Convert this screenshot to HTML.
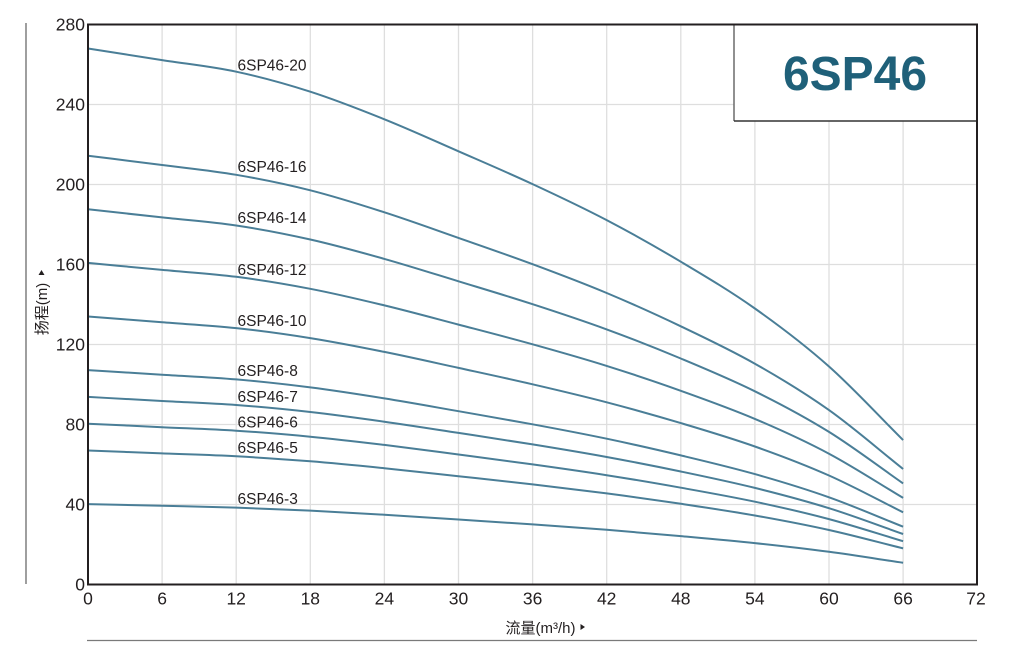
<!DOCTYPE html>
<html>
<head>
<meta charset="utf-8">
<style>
html,body{margin:0;padding:0;background:#fff;}
svg{display:block;}
text{font-family:"Liberation Sans","Noto Sans CJK SC",sans-serif;}
</style>
</head>
<body>
<svg id="chart" width="1009" height="656" viewBox="0 0 1009 656" xmlns="http://www.w3.org/2000/svg">
<rect x="0" y="0" width="1009" height="656" fill="#fff"/>
<!-- grid -->
<g stroke="#dedede" stroke-width="1.3" fill="none">
<line x1="162.1" y1="24" x2="162.1" y2="584"/>
<line x1="236.2" y1="24" x2="236.2" y2="584"/>
<line x1="310.3" y1="24" x2="310.3" y2="584"/>
<line x1="384.4" y1="24" x2="384.4" y2="584"/>
<line x1="458.5" y1="24" x2="458.5" y2="584"/>
<line x1="532.6" y1="24" x2="532.6" y2="584"/>
<line x1="606.7" y1="24" x2="606.7" y2="584"/>
<line x1="680.8" y1="24" x2="680.8" y2="584"/>
<line x1="754.9" y1="24" x2="754.9" y2="584"/>
<line x1="829" y1="24" x2="829" y2="584"/>
<line x1="903.1" y1="24" x2="903.1" y2="584"/>
<line x1="88" y1="104.5" x2="977" y2="104.5"/>
<line x1="88" y1="184.5" x2="977" y2="184.5"/>
<line x1="88" y1="264.5" x2="977" y2="264.5"/>
<line x1="88" y1="344.5" x2="977" y2="344.5"/>
<line x1="88" y1="424.5" x2="977" y2="424.5"/>
<line x1="88" y1="504.5" x2="977" y2="504.5"/>
</g>
<!-- title box -->
<rect x="734" y="24" width="243" height="97" fill="#fff" stroke="none"/>
<line x1="734" y1="24" x2="734" y2="121" stroke="#6a6a6a" stroke-width="1.5"/>
<line x1="734" y1="121" x2="977" y2="121" stroke="#333" stroke-width="1.5"/>
<text x="855" y="90" text-anchor="middle" font-size="48" font-weight="bold" fill="#1f6079">6SP46</text>
<!-- curves -->
<g id="curves" fill="none" stroke="#4a7e97" stroke-width="2" stroke-linejoin="round" stroke-linecap="butt">
<polyline points="88,48.5 162.1,60.1 236.2,71.7 310.3,91.7 384.4,119.3 458.5,151.3 532.6,184.1 606.7,220.1 680.8,261.7 754.9,308.5 829,366.5 903.1,440.1"/>
<polyline points="88,155.7 162.1,165.0 236.2,174.8 310.3,190.3 384.4,212.3 458.5,237.9 532.6,264.2 606.7,293.0 680.8,326.3 754.9,363.7 829,410.1 903.1,469.0"/>
<polyline points="88,209.3 162.1,217.4 236.2,225.5 310.3,239.5 384.4,258.9 458.5,281.3 532.6,304.2 606.7,329.4 680.8,358.5 754.9,391.3 829,431.9 903.1,483.4"/>
<polyline points="88,262.9 162.1,269.9 236.2,276.8 310.3,288.8 384.4,305.4 458.5,324.6 532.6,344.3 606.7,365.9 680.8,390.8 754.9,418.9 829,453.7 903.1,497.9"/>
<polyline points="88,316.5 162.1,322.3 236.2,328.1 310.3,338.1 384.4,351.9 458.5,367.9 532.6,384.3 606.7,402.3 680.8,423.1 754.9,446.5 829,475.5 903.1,512.3"/>
<polyline points="88,370.1 162.1,374.7 236.2,379.4 310.3,387.4 384.4,398.4 458.5,411.2 532.6,424.3 606.7,438.7 680.8,455.4 754.9,474.1 829,497.3 903.1,526.7"/>
<polyline points="88,396.9 162.1,401.0 236.2,405.0 310.3,412.0 384.4,421.7 458.5,432.9 532.6,444.4 606.7,457.0 680.8,471.5 754.9,487.9 829,508.2 903.1,534.0"/>
<polyline points="88,423.7 162.1,427.2 236.2,430.7 310.3,436.7 384.4,444.9 458.5,454.5 532.6,464.4 606.7,475.2 680.8,487.7 754.9,501.7 829,519.1 903.1,541.2"/>
<polyline points="88,450.5 162.1,453.4 236.2,456.3 310.3,461.3 384.4,468.2 458.5,476.2 532.6,484.4 606.7,493.4 680.8,503.8 754.9,515.5 829,530 903.1,548.4"/>
<polyline points="88,504.1 162.1,505.8 236.2,507.6 310.3,510.6 384.4,514.7 458.5,519.5 532.6,524.4 606.7,529.8 680.8,536.1 754.9,543.1 829,551.8 903.1,562.8"/>
</g>
<!-- curve labels -->
<g font-size="15.5" fill="#231f20">
<text x="237.5" y="70.5">6SP46-20</text>
<text x="237.5" y="172">6SP46-16</text>
<text x="237.5" y="223">6SP46-14</text>
<text x="237.5" y="275">6SP46-12</text>
<text x="237.5" y="326">6SP46-10</text>
<text x="237.5" y="376">6SP46-8</text>
<text x="237.5" y="402">6SP46-7</text>
<text x="237.5" y="427.5">6SP46-6</text>
<text x="237.5" y="453">6SP46-5</text>
<text x="237.5" y="504">6SP46-3</text>
</g>
<!-- axes frame -->
<rect x="88" y="24.5" width="889" height="560" fill="none" stroke="#231f20" stroke-width="2"/>
<!-- y tick labels -->
<g font-size="17.5" fill="#231f20" text-anchor="end">
<text x="85" y="30.5">280</text>
<text x="85" y="110.5">240</text>
<text x="85" y="190.5">200</text>
<text x="85" y="270.5">160</text>
<text x="85" y="350.5">120</text>
<text x="85" y="430.5">80</text>
<text x="85" y="510.5">40</text>
<text x="85" y="590.5">0</text>
</g>
<!-- x tick labels -->
<g font-size="17.5" fill="#231f20" text-anchor="middle">
<text x="88" y="604.5">0</text>
<text x="162.1" y="604.5">6</text>
<text x="236.2" y="604.5">12</text>
<text x="310.3" y="604.5">18</text>
<text x="384.4" y="604.5">24</text>
<text x="458.5" y="604.5">30</text>
<text x="532.6" y="604.5">36</text>
<text x="606.7" y="604.5">42</text>
<text x="680.8" y="604.5">48</text>
<text x="754.9" y="604.5">54</text>
<text x="829" y="604.5">60</text>
<text x="903.1" y="604.5">66</text>
<text x="976" y="604.5">72</text>
</g>
<!-- decorative lines -->
<line x1="26" y1="23" x2="26" y2="584" stroke="#6b6b6b" stroke-width="1.3"/>
<line x1="87" y1="640.5" x2="977" y2="640.5" stroke="#7a7a7a" stroke-width="1.3"/>
<!-- axis titles -->
<text x="505.5" y="633" font-size="15" fill="#231f20">流量(m³/h)</text>
<polygon points="580.5,624 580.5,630 585,627" fill="#231f20"/>
<text transform="translate(47,309) rotate(-90)" x="0" y="0" font-size="15" fill="#231f20" text-anchor="middle">扬程(m)</text>
<polygon points="38.5,275 44.5,275 41.5,270" fill="#231f20"/>
</svg>
<script>
(function(){
  var ns="http://www.w3.org/2000/svg";
  var g=document.getElementById("curves");
  var pls=g.getElementsByTagName("polyline");
  var arr=[];
  for(var i=0;i<pls.length;i++)arr.push(pls[i]);
  arr.forEach(function(pl){
    var pts=pl.getAttribute("points").trim().split(/\s+/).map(function(s){var a=s.split(",");return [parseFloat(a[0]),parseFloat(a[1])];});
    var n=pts.length;
    var d="M"+pts[0][0]+","+pts[0][1];
    for(var k=0;k<n-1;k++){
      var p0=pts[k>0?k-1:0],p1=pts[k],p2=pts[k+1],p3=pts[k+2<n?k+2:n-1];
      if(k===n-2){p3=[2*p2[0]-p1[0],2*p2[1]-p1[1]];}
      if(k===0){p0=[2*p1[0]-p2[0],2*p1[1]-p2[1]];}
      var c1x=p1[0]+(p2[0]-p0[0])/6,c1y=p1[1]+(p2[1]-p0[1])/6;
      var c2x=p2[0]-(p3[0]-p1[0])/6,c2y=p2[1]-(p3[1]-p1[1])/6;
      d+=" C"+c1x.toFixed(2)+","+c1y.toFixed(2)+" "+c2x.toFixed(2)+","+c2y.toFixed(2)+" "+p2[0]+","+p2[1];
    }
    var p=document.createElementNS(ns,"path");
    p.setAttribute("d",d);
    g.insertBefore(p,pl);
    g.removeChild(pl);
  });
})();
</script>
</body>
</html>
